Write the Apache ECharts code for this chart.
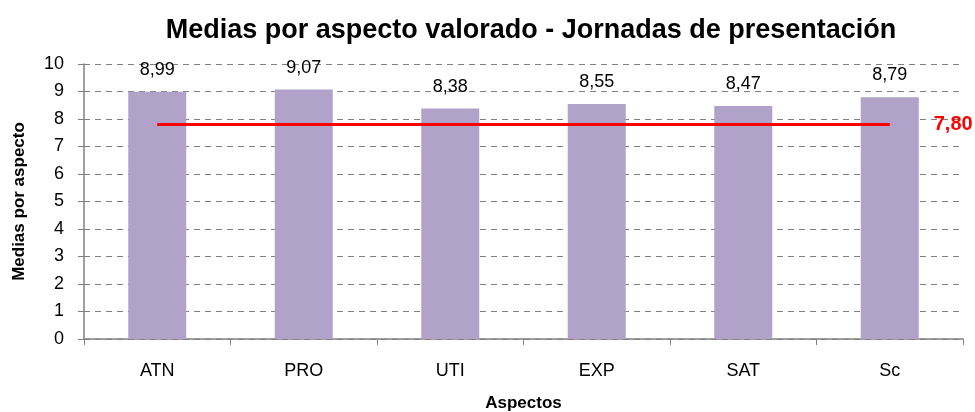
<!DOCTYPE html>
<html>
<head>
<meta charset="utf-8">
<script src="https://cdn.jsdelivr.net/npm/echarts@6/dist/echarts.min.js"></script>
<style>
html,body{margin:0;padding:0;background:#fff;}
#chart{width:975px;height:412px;}
</style>
</head>
<body>
<div id="chart"></div>
<script>
var categories = ['ATN', 'PRO', 'UTI', 'EXP', 'SAT', 'Sc'];
var medias = [8.99, 9.07, 8.38, 8.55, 8.47, 8.79];
var referencia = [7.80, 7.80, 7.80, 7.80, 7.80, 7.80];
var yTicks = [0, 1, 2, 3, 4, 5, 6, 7, 8, 9, 10];

var font = "'Liberation Sans Narrow', 'Liberation Sans', Arial, sans-serif";
function coma(v){ return v.toFixed(2).replace('.', ','); }

var myChart = echarts.init(document.getElementById('chart'));
var option = {
    animation: false,
    textStyle: {fontFamily: font},
    title: {
        text: 'Medias por aspecto valorado - Jornadas de presentación',
        left: 526,
        top: 12,
        textAlign: 'center',
        textStyle: {fontFamily: font, fontSize: 27, fontWeight: 'bold', color: '#000'}
    },
    grid: {left: 84, right: 12, top: 64, bottom: 73, outerBoundsMode: 'none'},
    xAxis: {
        type: 'category',
        data: categories,
        name: 'Aspectos',
        nameLocation: 'middle',
        nameGap: 56,
        nameTextStyle: {fontFamily: font, fontSize: 17, fontWeight: 'bold', color: '#000'},
        axisLine: {lineStyle: {color: '#808080', width: 1.5}},
        axisTick: {show: true, length: 6, lineStyle: {color: '#808080'}},
        axisLabel: {fontFamily: font, fontSize: 18, color: '#000', margin: 23}
    },
    yAxis: {
        type: 'value',
        min: 0,
        max: 10,
        interval: 1,
        name: 'Medias por aspecto',
        nameLocation: 'middle',
        nameGap: 56,
        nameTextStyle: {fontFamily: font, fontSize: 17, fontWeight: 'bold', color: '#000'},
        axisLine: {show: true, lineStyle: {color: '#808080', width: 1.5}},
        axisTick: {show: true, length: 6, lineStyle: {color: '#808080'}},
        axisLabel: {fontFamily: font, fontSize: 18, color: '#000', margin: 20,
            formatter: function(v){ return yTicks.indexOf(v) >= 0 ? String(v) : ''; }},
        splitLine: {show: true, lineStyle: {color: '#808080', type: [6, 5], width: 1.2}}
    },
    series: [
        {
            name: 'Medias',
            type: 'bar',
            data: medias,
            barWidth: 58,
            itemStyle: {color: '#B1A2C9'},
            label: {
                show: true,
                position: 'top',
                distance: 13,
                fontFamily: font,
                fontSize: 18,
                color: '#000',
                formatter: function(p){ return coma(p.value); }
            }
        },
        {
            name: 'Referencia',
            type: 'line',
            data: referencia,
            symbol: 'none',
            lineStyle: {color: '#FF0000', width: 3},
            endLabel: {
                show: true,
                distance: 44,
                fontFamily: font,
                fontSize: 20,
                fontWeight: 'bold',
                color: '#FF0000',
                formatter: function(p){ return coma(p.value); }
            }
        }
    ]
};
myChart.setOption(option);
</script>
</body>
</html>
